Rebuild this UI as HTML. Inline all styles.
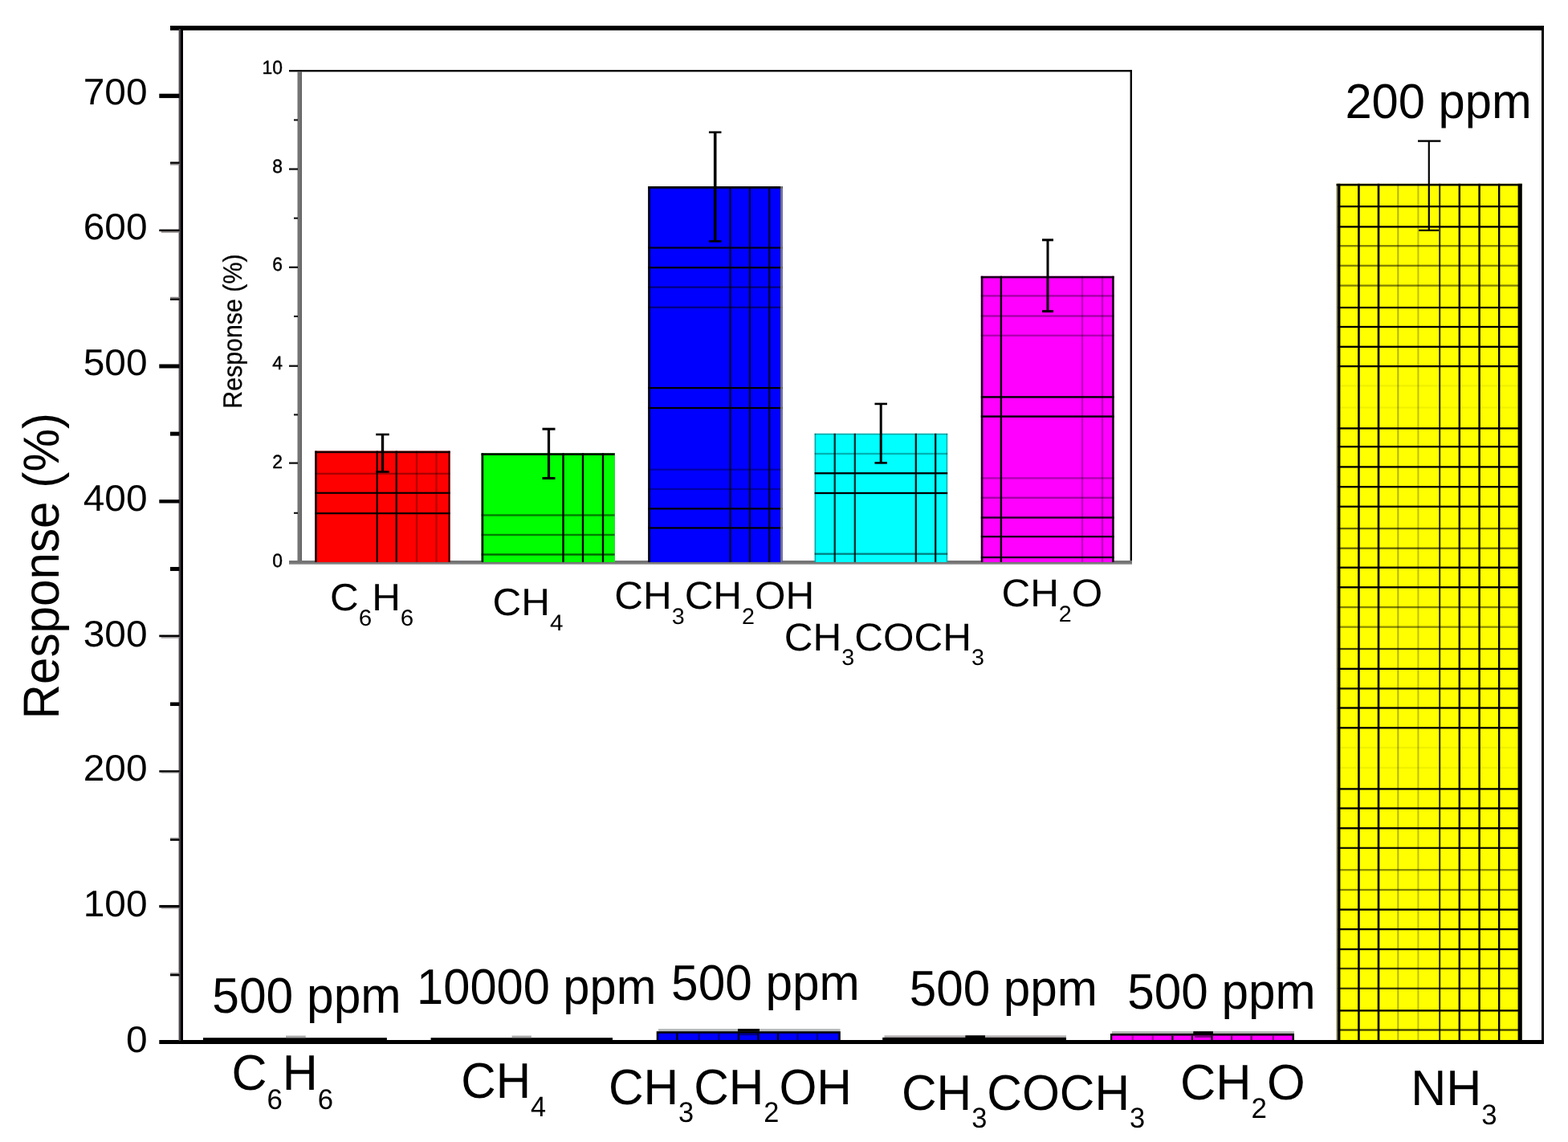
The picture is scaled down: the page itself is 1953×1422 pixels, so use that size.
<!DOCTYPE html>
<html lang="en">
<head>
<meta charset="utf-8">
<title>Response (%) bar chart</title>
<style>
html,body{margin:0;padding:0;background:#ffffff;}
body{width:1953px;height:1422px;overflow:hidden;}
svg{display:block;}
text{font-family:"Liberation Sans", sans-serif;fill:#000;}
</style>
</head>
<body>
<svg role="img" aria-label="Bar chart of sensor response (%) to different gases, with an inset zoom of the weak responses" width="1953" height="1422" viewBox="0 0 1953 1422" text-rendering="geometricPrecision">
<rect x="0" y="0" width="1953" height="1422" fill="#ffffff"/>
<rect x="1664.60" y="228.80" width="231.20" height="1067.20" fill="#ffff00"/>
<rect x="1666.60" y="255.95" width="227.20" height="2.30" fill="#000" fill-opacity="1"/>
<rect x="1666.60" y="281.25" width="227.20" height="2.30" fill="#000" fill-opacity="1"/>
<rect x="1666.60" y="305.05" width="227.20" height="2.30" fill="#000" fill-opacity="0.5"/>
<rect x="1666.60" y="329.65" width="227.20" height="2.30" fill="#000" fill-opacity="0.5"/>
<rect x="1666.60" y="354.45" width="227.20" height="2.30" fill="#000" fill-opacity="0.5"/>
<rect x="1666.60" y="381.85" width="227.20" height="2.30" fill="#000" fill-opacity="0.9"/>
<rect x="1666.60" y="405.85" width="227.20" height="2.30" fill="#000" fill-opacity="1"/>
<rect x="1666.60" y="430.65" width="227.20" height="2.30" fill="#000" fill-opacity="1"/>
<rect x="1666.60" y="454.95" width="227.20" height="2.30" fill="#000" fill-opacity="1"/>
<rect x="1666.60" y="479.25" width="227.20" height="2.30" fill="#000" fill-opacity="0.06"/>
<rect x="1666.60" y="506.35" width="227.20" height="2.30" fill="#000" fill-opacity="0.06"/>
<rect x="1666.60" y="532.25" width="227.20" height="2.30" fill="#000" fill-opacity="1"/>
<rect x="1666.60" y="555.05" width="227.20" height="2.30" fill="#000" fill-opacity="1"/>
<rect x="1666.60" y="580.25" width="227.20" height="2.30" fill="#000" fill-opacity="1"/>
<rect x="1666.60" y="605.05" width="227.20" height="2.30" fill="#000" fill-opacity="1"/>
<rect x="1666.60" y="629.65" width="227.20" height="2.30" fill="#000" fill-opacity="1"/>
<rect x="1666.60" y="656.95" width="227.20" height="2.30" fill="#000" fill-opacity="0.6"/>
<rect x="1666.60" y="681.55" width="227.20" height="2.30" fill="#000" fill-opacity="0.6"/>
<rect x="1666.60" y="705.55" width="227.20" height="2.30" fill="#000" fill-opacity="1"/>
<rect x="1666.60" y="730.15" width="227.20" height="2.30" fill="#000" fill-opacity="1"/>
<rect x="1666.60" y="754.95" width="227.20" height="2.30" fill="#000" fill-opacity="0.5"/>
<rect x="1666.60" y="779.55" width="227.20" height="2.30" fill="#000" fill-opacity="0.45"/>
<rect x="1666.60" y="806.85" width="227.20" height="2.30" fill="#000" fill-opacity="0.75"/>
<rect x="1666.60" y="831.65" width="227.20" height="2.30" fill="#000" fill-opacity="1"/>
<rect x="1666.60" y="856.25" width="227.20" height="2.30" fill="#000" fill-opacity="0.9"/>
<rect x="1666.60" y="880.35" width="227.20" height="2.30" fill="#000" fill-opacity="1"/>
<rect x="1666.60" y="905.15" width="227.20" height="2.30" fill="#000" fill-opacity="1"/>
<rect x="1666.60" y="929.85" width="227.20" height="2.30" fill="#000" fill-opacity="0.06"/>
<rect x="1666.60" y="954.85" width="227.20" height="2.30" fill="#000" fill-opacity="0.06"/>
<rect x="1666.60" y="981.25" width="227.20" height="2.30" fill="#000" fill-opacity="1"/>
<rect x="1666.60" y="1005.35" width="227.20" height="2.30" fill="#000" fill-opacity="1"/>
<rect x="1666.60" y="1030.15" width="227.20" height="2.30" fill="#000" fill-opacity="1"/>
<rect x="1666.60" y="1054.75" width="227.20" height="2.30" fill="#000" fill-opacity="0.9"/>
<rect x="1666.60" y="1082.05" width="227.20" height="2.30" fill="#000" fill-opacity="0.45"/>
<rect x="1666.60" y="1106.85" width="227.20" height="2.30" fill="#000" fill-opacity="0.5"/>
<rect x="1666.60" y="1131.45" width="227.20" height="2.30" fill="#000" fill-opacity="1"/>
<rect x="1666.60" y="1155.95" width="227.20" height="2.30" fill="#000" fill-opacity="1"/>
<rect x="1666.60" y="1180.85" width="227.20" height="2.30" fill="#000" fill-opacity="1"/>
<rect x="1666.60" y="1204.85" width="227.20" height="2.30" fill="#000" fill-opacity="0.75"/>
<rect x="1666.60" y="1229.65" width="227.20" height="2.30" fill="#000" fill-opacity="0.75"/>
<rect x="1666.60" y="1257.25" width="227.20" height="2.30" fill="#000" fill-opacity="1"/>
<rect x="1666.60" y="1281.35" width="227.20" height="2.30" fill="#000" fill-opacity="0.75"/>
<rect x="1691.10" y="228.80" width="2.60" height="1067.20" fill="#000" fill-opacity="1"/>
<rect x="1715.70" y="228.80" width="2.60" height="1067.20" fill="#000" fill-opacity="1"/>
<rect x="1740.30" y="228.80" width="2.00" height="1067.20" fill="#000" fill-opacity="0.3"/>
<rect x="1765.40" y="228.80" width="2.00" height="1067.20" fill="#000" fill-opacity="0.25"/>
<rect x="1792.20" y="228.80" width="2.00" height="1067.20" fill="#000" fill-opacity="0.85"/>
<rect x="1816.60" y="228.80" width="2.40" height="1067.20" fill="#000" fill-opacity="1"/>
<rect x="1841.40" y="228.80" width="2.40" height="1067.20" fill="#000" fill-opacity="1"/>
<rect x="1866.00" y="228.80" width="2.40" height="1067.20" fill="#000" fill-opacity="1"/>
<rect x="1664.60" y="228.80" width="1.60" height="1067.20" fill="#777"/>
<rect x="1666.20" y="228.80" width="3.20" height="1067.20" fill="#000"/>
<rect x="1890.60" y="228.80" width="5.20" height="1067.20" fill="#000"/>
<rect x="1664.60" y="228.80" width="231.20" height="2.60" fill="#000"/>
<rect x="1778.70" y="175.30" width="2.20" height="111.70" fill="#000"/>
<rect x="1766.00" y="174.40" width="28.40" height="2.40" fill="#000"/>
<rect x="1767.20" y="285.70" width="24.80" height="2.20" fill="#000"/>
<rect x="253.00" y="1292.20" width="228.90" height="3.80" fill="#000"/>
<rect x="356.00" y="1289.60" width="24.80" height="2.60" fill="#aaa"/>
<rect x="536.60" y="1292.20" width="226.40" height="3.80" fill="#000"/>
<rect x="637.50" y="1289.60" width="24.50" height="2.60" fill="#aaa"/>
<rect x="820.00" y="1281.00" width="226.50" height="3.30" fill="#b8bcbc"/>
<rect x="817.70" y="1284.20" width="229.10" height="11.80" fill="#000"/>
<rect x="820.20" y="1286.80" width="224.20" height="9.20" fill="#0000ff"/>
<rect x="842.37" y="1286.80" width="2.20" height="9.20" fill="#000" fill-opacity="1"/>
<rect x="869.56" y="1286.80" width="2.20" height="9.20" fill="#000" fill-opacity="0.45"/>
<rect x="894.14" y="1286.80" width="2.20" height="9.20" fill="#000" fill-opacity="0.45"/>
<rect x="918.72" y="1286.80" width="2.20" height="9.20" fill="#000" fill-opacity="1"/>
<rect x="943.29" y="1286.80" width="2.20" height="9.20" fill="#000" fill-opacity="1"/>
<rect x="967.87" y="1286.80" width="2.20" height="9.20" fill="#000" fill-opacity="1"/>
<rect x="992.45" y="1286.80" width="2.20" height="9.20" fill="#000" fill-opacity="0.45"/>
<rect x="1017.03" y="1286.80" width="2.20" height="9.20" fill="#000" fill-opacity="0.45"/>
<rect x="919.00" y="1281.00" width="27.00" height="3.60" fill="#000"/>
<rect x="921.00" y="1287.50" width="23.00" height="1.60" fill="#000" fill-opacity="0.6"/>
<rect x="1101.50" y="1289.30" width="226.50" height="2.70" fill="#b4b0b0"/>
<rect x="1099.20" y="1291.90" width="228.80" height="4.10" fill="#000"/>
<rect x="1202.40" y="1289.30" width="24.60" height="2.70" fill="#000"/>
<rect x="1385.00" y="1284.20" width="227.00" height="3.00" fill="#b0b0b0"/>
<rect x="1383.00" y="1287.00" width="229.00" height="9.00" fill="#000"/>
<rect x="1385.30" y="1289.60" width="224.20" height="6.40" fill="#ff00ff"/>
<rect x="1409.61" y="1289.60" width="2.20" height="6.40" fill="#000" fill-opacity="0.35"/>
<rect x="1434.65" y="1289.60" width="2.20" height="6.40" fill="#000" fill-opacity="0.35"/>
<rect x="1459.22" y="1289.60" width="2.20" height="6.40" fill="#000" fill-opacity="1"/>
<rect x="1483.80" y="1289.60" width="2.20" height="6.40" fill="#000" fill-opacity="1"/>
<rect x="1508.38" y="1289.60" width="2.20" height="6.40" fill="#000" fill-opacity="1"/>
<rect x="1532.96" y="1289.60" width="2.20" height="6.40" fill="#000" fill-opacity="0.6"/>
<rect x="1557.53" y="1289.60" width="2.20" height="6.40" fill="#000" fill-opacity="0.6"/>
<rect x="1584.72" y="1289.60" width="2.20" height="6.40" fill="#000" fill-opacity="0.45"/>
<rect x="1486.30" y="1284.20" width="24.60" height="3.20" fill="#000"/>
<rect x="1488.00" y="1290.20" width="21.00" height="1.60" fill="#000" fill-opacity="0.6"/>
<rect x="212.00" y="32.00" width="1711.00" height="5.80" fill="#000"/>
<rect x="198.30" y="1295.00" width="1724.70" height="5.00" fill="#000"/>
<rect x="1920.00" y="32.00" width="3.00" height="1268.00" fill="#000"/>
<rect x="222.60" y="36.00" width="2.60" height="1260.00" fill="#4a434b"/>
<rect x="225.00" y="36.00" width="3.00" height="1260.00" fill="#000"/>
<rect x="212.00" y="1211.30" width="11.50" height="1.40" fill="#8c8686"/>
<rect x="212.00" y="1212.70" width="11.50" height="2.70" fill="#000"/>
<rect x="198.30" y="1126.95" width="25.20" height="3.30" fill="#000"/>
<rect x="200.80" y="1130.25" width="22.70" height="1.20" fill="#8c8686"/>
<rect x="212.00" y="1043.20" width="11.50" height="1.20" fill="#8c8686"/>
<rect x="212.00" y="1044.40" width="11.50" height="2.50" fill="#000"/>
<rect x="198.30" y="959.20" width="25.20" height="2.50" fill="#000"/>
<rect x="200.80" y="961.70" width="22.70" height="0.90" fill="#8c8686"/>
<rect x="212.00" y="874.45" width="11.50" height="4.60" fill="#000"/>
<rect x="198.30" y="790.55" width="25.20" height="2.70" fill="#000"/>
<rect x="200.80" y="793.25" width="22.70" height="1.40" fill="#8c8686"/>
<rect x="212.00" y="705.95" width="11.50" height="5.00" fill="#000"/>
<rect x="198.30" y="622.10" width="25.20" height="4.40" fill="#000"/>
<rect x="212.00" y="537.65" width="11.50" height="5.00" fill="#000"/>
<rect x="198.30" y="453.50" width="25.20" height="5.00" fill="#000"/>
<rect x="212.00" y="369.75" width="11.50" height="1.70" fill="#8c8686"/>
<rect x="212.00" y="371.45" width="11.50" height="2.50" fill="#000"/>
<rect x="198.30" y="285.60" width="25.20" height="2.50" fill="#000"/>
<rect x="200.80" y="288.10" width="22.70" height="1.70" fill="#8c8686"/>
<rect x="212.00" y="201.50" width="11.50" height="2.40" fill="#000"/>
<rect x="212.00" y="203.90" width="11.50" height="1.70" fill="#8c8686"/>
<rect x="198.30" y="116.70" width="25.20" height="5.40" fill="#000"/>
<text transform="translate(183.50 1309.60) scale(1.04 1.0)" font-size="46" text-anchor="end"><tspan>0</tspan></text>
<text transform="translate(183.50 1141.30) scale(1.04 1.0)" font-size="46" text-anchor="end"><tspan>100</tspan></text>
<text transform="translate(183.50 972.10) scale(1.04 1.0)" font-size="46" text-anchor="end"><tspan>200</tspan></text>
<text transform="translate(183.50 804.90) scale(1.04 1.0)" font-size="46" text-anchor="end"><tspan>300</tspan></text>
<text transform="translate(183.50 636.20) scale(1.04 1.0)" font-size="46" text-anchor="end"><tspan>400</tspan></text>
<text transform="translate(183.50 467.40) scale(1.04 1.0)" font-size="46" text-anchor="end"><tspan>500</tspan></text>
<text transform="translate(183.50 298.20) scale(1.04 1.0)" font-size="46" text-anchor="end"><tspan>600</tspan></text>
<text transform="translate(183.50 130.00) scale(1.04 1.0)" font-size="46" text-anchor="end"><tspan>700</tspan></text>
<text transform="translate(72.9 895.6) rotate(-90) scale(0.956 1)" font-size="63">Response (%)</text>
<text transform="translate(264.30 1261.00) scale(1.0 1.03)" font-size="60.5" text-anchor="start"><tspan>500 ppm</tspan></text>
<text transform="translate(519.10 1249.90) scale(0.985 1.03)" font-size="60.5" text-anchor="start"><tspan>10000 ppm</tspan></text>
<text transform="translate(836.10 1244.70) scale(0.997 1.03)" font-size="60.5" text-anchor="start"><tspan>500 ppm</tspan></text>
<text transform="translate(1132.70 1252.30) scale(0.995 1.03)" font-size="60.5" text-anchor="start"><tspan>500 ppm</tspan></text>
<text transform="translate(1404.30 1255.50) scale(0.995 1.03)" font-size="60.5" text-anchor="start"><tspan>500 ppm</tspan></text>
<text transform="translate(1675.40 146.70) scale(1.012 1.03)" font-size="59.0" text-anchor="start"><tspan>200 ppm</tspan></text>
<text transform="translate(288.40 1357.40) scale(1.0 1.02)" font-size="61" text-anchor="start"><tspan>C</tspan><tspan font-size="34.77" dy="23.14" dx="0.00">6</tspan><tspan dy="-23.14">H</tspan><tspan font-size="34.77" dy="23.14" dx="0.00">6</tspan></text>
<text transform="translate(574.30 1367.40) scale(0.985 1.02)" font-size="61" text-anchor="start"><tspan>CH</tspan><tspan font-size="34.77" dy="22.35" dx="0.00">4</tspan></text>
<text transform="translate(757.90 1374.60) scale(0.989 1.02)" font-size="61" text-anchor="start"><tspan>CH</tspan><tspan font-size="34.77" dy="22.35" dx="0.00">3</tspan><tspan dy="-22.35">CH</tspan><tspan font-size="34.77" dy="22.35" dx="0.00">2</tspan><tspan dy="-22.35">OH</tspan></text>
<text transform="translate(1122.90 1381.80) scale(0.99 1.02)" font-size="61" text-anchor="start"><tspan>CH</tspan><tspan font-size="34.77" dy="21.57" dx="0.00">3</tspan><tspan dy="-21.57">COCH</tspan><tspan font-size="34.77" dy="21.57" dx="0.00">3</tspan></text>
<text transform="translate(1470.00 1368.60) scale(1.005 1.02)" font-size="61" text-anchor="start"><tspan>CH</tspan><tspan font-size="34.77" dy="23.14" dx="0.00">2</tspan><tspan dy="-23.14">O</tspan></text>
<text transform="translate(1757.20 1376.30) scale(1.0 1.02)" font-size="61" text-anchor="start"><tspan>NH</tspan><tspan font-size="34.77" dy="23.33" dx="0.00">3</tspan></text>
<rect x="360.00" y="87.10" width="1050.00" height="2.30" fill="#000"/>
<rect x="1407.60" y="87.10" width="2.40" height="614.90" fill="#000"/>
<rect x="360.00" y="698.00" width="1050.00" height="4.60" fill="#747474"/>
<rect x="360.00" y="701.70" width="1050.00" height="0.90" fill="#a0a0a0"/>
<rect x="370.50" y="89.00" width="5.40" height="611.00" fill="#747474"/>
<rect x="374.70" y="89.00" width="1.20" height="609.00" fill="#5c5c5c"/>
<rect x="366.00" y="637.75" width="5.00" height="2.10" fill="#111"/>
<rect x="360.00" y="575.45" width="11.00" height="2.30" fill="#111"/>
<rect x="366.00" y="515.35" width="5.00" height="2.10" fill="#111"/>
<rect x="360.00" y="454.55" width="11.00" height="2.30" fill="#111"/>
<rect x="366.00" y="392.90" width="5.00" height="2.10" fill="#111"/>
<rect x="360.00" y="331.67" width="11.00" height="2.30" fill="#111"/>
<rect x="366.00" y="270.64" width="5.00" height="2.10" fill="#111"/>
<rect x="360.00" y="209.41" width="11.00" height="2.30" fill="#111"/>
<rect x="366.00" y="148.38" width="5.00" height="2.10" fill="#111"/>
<rect x="392.30" y="561.60" width="168.30" height="138.30" fill="#ff0000"/>
<rect x="392.30" y="588.70" width="168.30" height="2.20" fill="#000" fill-opacity="0.35"/>
<rect x="392.30" y="612.70" width="168.30" height="2.20" fill="#000" fill-opacity="0.95"/>
<rect x="392.30" y="638.10" width="168.30" height="2.20" fill="#000" fill-opacity="0.95"/>
<rect x="468.60" y="561.60" width="2.20" height="138.30" fill="#000" fill-opacity="0.95"/>
<rect x="492.60" y="561.60" width="2.20" height="138.30" fill="#000" fill-opacity="0.95"/>
<rect x="517.90" y="561.60" width="2.20" height="138.30" fill="#000" fill-opacity="0.3"/>
<rect x="542.40" y="561.60" width="2.20" height="138.30" fill="#000" fill-opacity="0.3"/>
<rect x="392.30" y="561.60" width="168.30" height="2.60" fill="#000" fill-opacity="0.9"/>
<rect x="392.30" y="561.60" width="2.40" height="138.30" fill="#000" fill-opacity="1.0"/>
<rect x="558.40" y="561.60" width="2.20" height="138.30" fill="#000" fill-opacity="0.75"/>
<rect x="599.60" y="564.30" width="166.40" height="135.60" fill="#00ff00"/>
<rect x="599.60" y="640.30" width="166.40" height="2.40" fill="#000" fill-opacity="0.5"/>
<rect x="599.60" y="664.80" width="166.40" height="2.40" fill="#000" fill-opacity="0.5"/>
<rect x="599.60" y="689.30" width="166.40" height="2.40" fill="#000" fill-opacity="0.6"/>
<rect x="700.30" y="564.30" width="2.40" height="135.60" fill="#000" fill-opacity="1"/>
<rect x="724.80" y="564.30" width="2.40" height="135.60" fill="#000" fill-opacity="1"/>
<rect x="749.80" y="564.30" width="2.40" height="135.60" fill="#000" fill-opacity="1"/>
<rect x="599.60" y="564.30" width="166.40" height="2.60" fill="#000" fill-opacity="1"/>
<rect x="599.60" y="564.30" width="2.60" height="135.60" fill="#000" fill-opacity="1"/>
<rect x="764.80" y="564.30" width="1.20" height="135.60" fill="#8080c0" fill-opacity="0.35"/>
<rect x="807.30" y="232.00" width="167.30" height="467.90" fill="#0000ff"/>
<rect x="807.30" y="307.40" width="167.30" height="2.20" fill="#000" fill-opacity="0.9"/>
<rect x="807.30" y="332.10" width="167.30" height="2.20" fill="#000" fill-opacity="1"/>
<rect x="807.30" y="356.50" width="167.30" height="2.20" fill="#000" fill-opacity="0.5"/>
<rect x="807.30" y="381.60" width="167.30" height="2.20" fill="#000" fill-opacity="0.5"/>
<rect x="807.30" y="482.00" width="167.30" height="2.20" fill="#000" fill-opacity="1"/>
<rect x="807.30" y="506.90" width="167.30" height="2.20" fill="#000" fill-opacity="1"/>
<rect x="807.30" y="583.60" width="167.30" height="2.20" fill="#000" fill-opacity="0.35"/>
<rect x="807.30" y="607.90" width="167.30" height="2.20" fill="#000" fill-opacity="0.35"/>
<rect x="807.30" y="632.30" width="167.30" height="2.20" fill="#000" fill-opacity="1"/>
<rect x="807.30" y="656.30" width="167.30" height="2.20" fill="#000" fill-opacity="1"/>
<rect x="908.40" y="232.00" width="2.20" height="467.90" fill="#000" fill-opacity="0.8"/>
<rect x="932.80" y="232.00" width="2.20" height="467.90" fill="#000" fill-opacity="0.8"/>
<rect x="957.20" y="232.00" width="2.20" height="467.90" fill="#000" fill-opacity="0.8"/>
<rect x="807.30" y="232.00" width="167.30" height="2.80" fill="#000" fill-opacity="1"/>
<rect x="807.30" y="232.00" width="2.60" height="467.90" fill="#000" fill-opacity="1"/>
<rect x="972.20" y="232.00" width="2.40" height="467.90" fill="#7a7a7a" fill-opacity="1"/>
<rect x="1014.60" y="539.80" width="165.60" height="160.10" fill="#00ffff"/>
<rect x="1014.60" y="563.85" width="165.60" height="2.30" fill="#000" fill-opacity="0.3"/>
<rect x="1014.60" y="588.15" width="165.60" height="2.30" fill="#000" fill-opacity="1"/>
<rect x="1014.60" y="612.85" width="165.60" height="2.30" fill="#000" fill-opacity="1"/>
<rect x="1014.60" y="688.55" width="165.60" height="2.30" fill="#000" fill-opacity="0.5"/>
<rect x="1038.55" y="539.80" width="2.30" height="160.10" fill="#000" fill-opacity="0.8"/>
<rect x="1063.65" y="539.80" width="2.30" height="160.10" fill="#000" fill-opacity="0.8"/>
<rect x="1139.65" y="539.80" width="2.30" height="160.10" fill="#000" fill-opacity="0.9"/>
<rect x="1164.05" y="539.80" width="2.30" height="160.10" fill="#000" fill-opacity="0.9"/>
<rect x="1014.60" y="539.80" width="165.60" height="1.60" fill="#000" fill-opacity="0.35"/>
<rect x="1014.60" y="539.80" width="1.60" height="160.10" fill="#000" fill-opacity="0.35"/>
<rect x="1178.60" y="539.80" width="1.60" height="160.10" fill="#000" fill-opacity="0.3"/>
<rect x="1221.80" y="343.80" width="165.80" height="356.10" fill="#ff00ff"/>
<rect x="1221.80" y="367.20" width="165.80" height="2.40" fill="#000" fill-opacity="0.35"/>
<rect x="1221.80" y="392.30" width="165.80" height="2.40" fill="#000" fill-opacity="0.35"/>
<rect x="1221.80" y="416.60" width="165.80" height="2.40" fill="#000" fill-opacity="0.3"/>
<rect x="1221.80" y="493.20" width="165.80" height="2.40" fill="#000" fill-opacity="1"/>
<rect x="1221.80" y="517.40" width="165.80" height="2.40" fill="#000" fill-opacity="1"/>
<rect x="1221.80" y="594.20" width="165.80" height="2.40" fill="#000" fill-opacity="0.3"/>
<rect x="1221.80" y="618.60" width="165.80" height="2.40" fill="#000" fill-opacity="0.35"/>
<rect x="1221.80" y="643.30" width="165.80" height="2.40" fill="#000" fill-opacity="0.85"/>
<rect x="1221.80" y="667.00" width="165.80" height="2.40" fill="#000" fill-opacity="0.85"/>
<rect x="1221.80" y="692.80" width="165.80" height="2.40" fill="#000" fill-opacity="0.85"/>
<rect x="1245.70" y="343.80" width="2.40" height="356.10" fill="#000" fill-opacity="1"/>
<rect x="1346.80" y="343.80" width="2.40" height="356.10" fill="#000" fill-opacity="0.25"/>
<rect x="1371.80" y="343.80" width="2.40" height="356.10" fill="#000" fill-opacity="0.25"/>
<rect x="1221.80" y="343.80" width="165.80" height="2.60" fill="#000" fill-opacity="0.9"/>
<rect x="1221.80" y="343.80" width="2.60" height="356.10" fill="#000" fill-opacity="0.9"/>
<rect x="1385.00" y="343.80" width="2.60" height="356.10" fill="#000" fill-opacity="0.9"/>
<rect x="474.80" y="541.00" width="3.40" height="46.50" fill="#000"/>
<rect x="468.25" y="539.70" width="16.50" height="2.60" fill="#000"/>
<rect x="468.25" y="586.20" width="16.50" height="2.60" fill="#000"/>
<rect x="681.90" y="534.20" width="3.20" height="61.30" fill="#000"/>
<rect x="675.50" y="532.70" width="16.00" height="3.00" fill="#000"/>
<rect x="675.50" y="594.00" width="16.00" height="3.00" fill="#000"/>
<rect x="888.90" y="164.70" width="3.60" height="135.70" fill="#000"/>
<rect x="882.95" y="163.40" width="15.50" height="2.60" fill="#000"/>
<rect x="882.95" y="299.10" width="15.50" height="2.60" fill="#000"/>
<rect x="1095.70" y="502.90" width="3.00" height="73.50" fill="#000"/>
<rect x="1089.45" y="501.60" width="15.50" height="2.60" fill="#000"/>
<rect x="1089.45" y="575.10" width="15.50" height="2.60" fill="#000"/>
<rect x="1303.50" y="298.80" width="3.00" height="88.80" fill="#000"/>
<rect x="1298.00" y="297.30" width="14.00" height="3.00" fill="#000"/>
<rect x="1298.00" y="386.10" width="14.00" height="3.00" fill="#000"/>
<text transform="translate(352.00 705.50) scale(1.03 1.06)" font-size="22.2" text-anchor="end" stroke="#000" stroke-width="0.4"><tspan>0</tspan></text>
<text transform="translate(352.00 583.30) scale(1.03 1.06)" font-size="22.2" text-anchor="end" stroke="#000" stroke-width="0.4"><tspan>2</tspan></text>
<text transform="translate(352.00 459.50) scale(1.03 1.06)" font-size="22.2" text-anchor="end" stroke="#000" stroke-width="0.4"><tspan>4</tspan></text>
<text transform="translate(352.00 337.20) scale(1.03 1.06)" font-size="22.2" text-anchor="end" stroke="#000" stroke-width="0.4"><tspan>6</tspan></text>
<text transform="translate(352.00 214.90) scale(1.03 1.06)" font-size="22.2" text-anchor="end" stroke="#000" stroke-width="0.4"><tspan>8</tspan></text>
<text transform="translate(352.00 91.90) scale(1.03 1.06)" font-size="22.2" text-anchor="end" stroke="#000" stroke-width="0.4"><tspan>10</tspan></text>
<text transform="translate(300.8 508.8) rotate(-90) scale(0.92 1)" font-size="33" stroke="#000" stroke-width="0.25">Response (%)</text>
<text transform="translate(411.00 760.00) scale(1.04 1.0)" font-size="47.5" text-anchor="start"><tspan>C</tspan><tspan font-size="28.50" dy="19.20" dx="0.00">6</tspan><tspan dy="-19.20">H</tspan><tspan font-size="28.50" dy="19.20" dx="0.00">6</tspan></text>
<text transform="translate(613.60 765.80) scale(1.04 1.0)" font-size="47.5" text-anchor="start"><tspan>CH</tspan><tspan font-size="28.50" dy="19.20" dx="0.00">4</tspan></text>
<text transform="translate(765.20 757.60) scale(1.02 1.0)" font-size="48.5" text-anchor="start"><tspan>CH</tspan><tspan font-size="28.13" dy="19.00" dx="0.00">3</tspan><tspan dy="-19.00">CH</tspan><tspan font-size="28.13" dy="19.00" dx="0.00">2</tspan><tspan dy="-19.00">OH</tspan></text>
<text transform="translate(976.80 809.60) scale(1.02 1.0)" font-size="48.5" text-anchor="start"><tspan>CH</tspan><tspan font-size="28.13" dy="18.80" dx="0.00">3</tspan><tspan dy="-18.80">COCH</tspan><tspan font-size="28.13" dy="18.80" dx="0.00">3</tspan></text>
<text transform="translate(1247.40 754.70) scale(1.02 1.0)" font-size="48.5" text-anchor="start"><tspan>CH</tspan><tspan font-size="28.13" dy="19.00" dx="0.00">2</tspan><tspan dy="-19.00">O</tspan></text>
</svg>
</body>
</html>
